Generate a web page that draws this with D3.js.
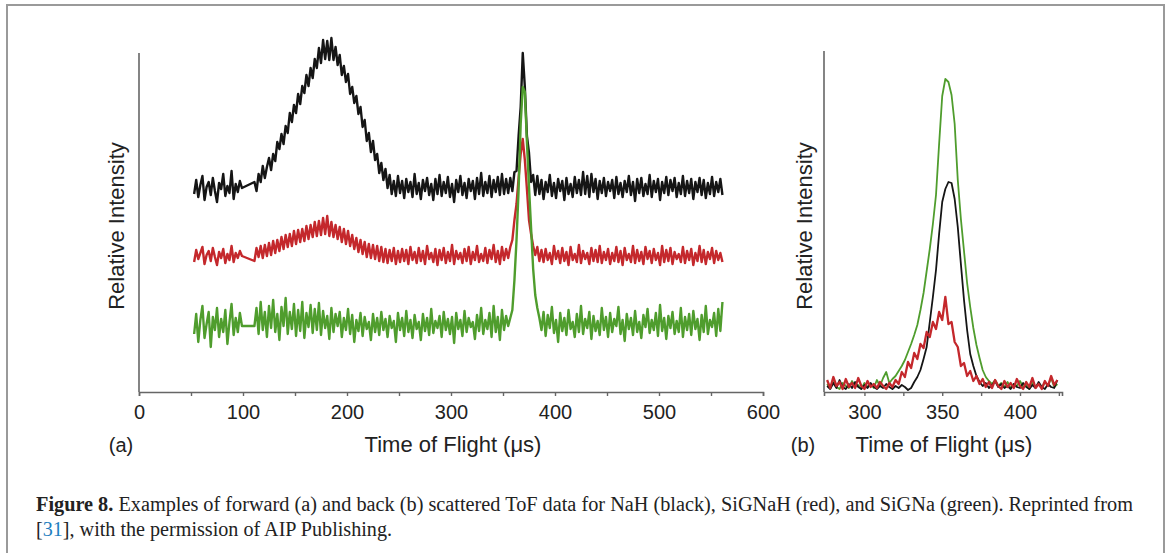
<!DOCTYPE html>
<html><head><meta charset="utf-8">
<script src="https://cdn.jsdelivr.net/npm/d3@7"></script>
<style>
html,body{margin:0;padding:0;background:#fff;}
svg{display:block;}
.ax text{font-family:"Liberation Sans",Arial,sans-serif;fill:#222;}
</style></head>
<body>
<svg id="fig" width="1170" height="553"></svg>
<script>
// ---------------- DATA ----------------
// Panel (a): forward scattered ToF, sampling grid (µs): 53..99 and 111..561 step 2
const gridA_seg1 = [53, 99];
const gridA_seg2 = [111, 561];
const gridA_step = 2;
const xTicksA = [0,50,100,150,200,250,300,350,400,450,500,550,600];
const xLabelsA = [0,100,200,300,400,500,600];

// relative intensity (arbitrary units, offsets included)
const nahA = [
198,212,195,207,216,192,205,210,197,214,
201,190,209,203,218,196,206,199,221,193,
208,200,211,204,
210,201,218,210,226,214,225,234,222,238,
231,250,243,258,248,266,259,279,270,287,
279,298,288,306,299,317,306,324,314,333,
324,344,329,352,333,351,332,354,332,345,
327,337,317,326,310,318,298,305,289,296,
278,285,265,272,251,259,240,251,232,238,
219,229,212,223,204,217,198,211,196,216,
199,211,194,213,200,210,195,218,198,209,
193,212,201,214,197,208,192,213,198,217,
196,210,199,215,195,208,190,212,200,216,
197,209,194,213,201,211,193,214,198,219,
196,210,199,216,195,212,200,215,197,218,
198,213,199,214,201,220,221,256,285,339,
305,256,239,210,217,197,216,198,212,193,
210,200,217,196,209,194,213,201,211,192,
214,198,208,195,215,199,212,197,220,198,
216,195,218,200,213,193,211,199,214,196,
210,201,212,194,215,198,209,195,211,200,
216,197,210,191,213,199,214,196,208,198,
217,195,211,200,213,192,210,199,215,197,
212,201,214,195,209,198,216,196,211,199,
213,193,210,200,214,197,212,194,209,198,
215,196,210,200,213,197];

const signahA = [
130,142,133,139,145,128,137,141,131,144,
135,127,140,134,143,129,138,132,146,130,
139,134,141,136,
131,144,135,146,134,147,136,149,137,151,
139,152,141,155,143,157,145,158,146,161,
148,162,150,163,151,166,153,167,155,170,
156,171,157,174,158,176,156,170,155,167,
153,165,150,163,148,161,146,157,143,154,
140,152,138,150,135,148,134,147,133,146,
131,145,130,143,129,142,131,144,128,141,
130,143,131,142,128,145,132,140,129,144,
131,141,128,146,133,139,130,143,127,142,
132,144,129,140,131,147,128,141,133,139,
129,143,131,145,128,140,132,146,130,138,
131,144,129,142,133,147,130,141,128,145,
132,143,134,145,152,172,188,214,238,253,
232,203,172,158,146,137,145,131,142,130,
143,132,139,128,146,133,141,129,144,131,
140,127,145,132,138,130,147,129,141,133,
139,128,144,131,142,130,146,129,140,132,
143,128,139,131,145,130,141,127,144,132,
138,130,146,129,142,131,140,128,145,133,
141,129,143,132,139,127,146,130,142,131,
144,128,140,133,138,130,145,129,141,132,
143,127,139,131,146,130,142,128,140,133,
144,129,141,132,139,130];

const signaA = [
58,78,50,72,86,54,68,80,45,75,
62,84,55,73,60,82,48,70,88,57,
74,60,79,66,
66,84,58,90,62,80,55,86,64,92,
60,78,52,85,66,94,58,80,63,88,
56,82,61,90,54,79,65,87,59,83,
62,89,57,81,64,76,53,84,60,78,
66,80,55,74,62,83,58,77,50,72,
61,79,56,75,63,70,52,78,60,74,
57,80,62,73,55,76,64,71,50,79,
62,74,56,81,60,72,54,77,63,70,
52,78,61,74,57,83,59,71,64,76,
55,80,62,73,58,75,49,79,63,72,
56,81,60,74,65,70,53,77,61,84,
58,72,63,79,55,86,60,75,52,82,
62,76,66,74,82,112,152,202,268,305,
300,250,205,164,123,97,84,74,62,80,
56,77,64,85,59,72,50,79,61,74,
57,82,63,70,55,78,60,86,58,73,
64,80,53,76,61,71,57,84,62,75,
55,79,60,73,66,85,58,72,51,78,
63,74,57,81,60,70,54,77,65,83,
59,72,62,79,56,87,61,74,53,76,
64,80,58,71,60,84,55,75,62,78,
57,81,63,73,52,77,60,86,58,72,
65,79,56,83,61,90];

// Panel (b): back scattered ToF, grid 276..424 step 2 (µs)
const gridB = [276, 424];
const gridB_step = 2;
const xTicksB = [300,325,350,375,400,425];
const xLabelsB = [300,350,400];

const nahB = [
6,3,9,4,12,5,3,8,4,10,
5,3,7,4,9,5,3,6,4,8,
5,3,6,4,7,5,2,4,10,15,
22,33,45,70,95,122,158,190,203,210,
209,193,165,128,92,62,38,26,16,10,
6,9,4,7,11,5,8,4,6,3,
8,5,4,9,5,3,7,4,10,5,
3,8,5,4,12];

const signahB = [
12,4,15,6,10,3,13,5,9,4,
14,6,3,11,5,8,4,10,6,3,
9,5,12,8,20,15,30,24,39,33,
48,44,60,55,70,63,80,72,95,68,
70,50,45,26,29,16,21,11,16,8,
13,5,10,4,12,6,3,11,5,9,
4,13,6,3,10,5,14,4,8,3,
11,6,16,7,12];

const signaB = [
8,4,10,5,3,9,6,4,11,5,
7,3,9,5,8,4,12,6,14,20,
9,13,16,21,26,32,40,48,57,67,
82,99,121,143,168,197,248,296,313,310,
297,268,212,173,141,109,85,64,47,34,
22,15,11,8,12,6,9,5,10,4,
8,6,11,5,7,3,9,5,8,4,
10,6,14,5,8];

const colNaH = "#151515", colSiGNaH = "#c4282c", colSiGNa = "#4f9d2d";

// ---------------- DRAW ----------------
const svg = d3.select("#fig");
svg.append("rect").attr("x",7).attr("y",5).attr("width",1157).attr("height",560)
  .attr("fill","#fff").attr("stroke","#9a9a9a").attr("stroke-width",2);

const gridA = d3.range(gridA_seg1[0], gridA_seg1[1]+1, gridA_step)
  .concat(d3.range(gridA_seg2[0], gridA_seg2[1]+1, gridA_step));
const gridBx = d3.range(gridB[0], gridB[1]+1, gridB_step);

const y = d3.scaleLinear().domain([0,340]).range([392,52]);
const xA = d3.scaleLinear().domain([0,600]).range([139,763]);
const xB = d3.scaleLinear().domain([274,427]).range([824,1062]);

function trace(g, xs, vals, xScale, color, w){
  const pts = vals.map((v,i)=>[xs[i], v]).filter(d=>d[0]!==undefined);
  g.append("path").datum(pts)
   .attr("fill","none").attr("stroke",color).attr("stroke-width",w)
   .attr("stroke-linejoin","round")
   .attr("d", d3.line().x(d=>xScale(d[0])).y(d=>y(d[1])));
}

function axes(xScale, ticks, labels, yTop, label, tag, tagX){
  const g = svg.append("g").attr("class","ax").attr("transform","translate(0,392)");
  g.call(d3.axisBottom(xScale).tickValues(ticks).tickSize(4).tickPadding(9)
     .tickFormat(d => labels.includes(d) ? d : ""));
  g.select(".domain").attr("stroke","#666").attr("stroke-width",1.6);
  g.selectAll(".tick line").attr("stroke","#666").attr("stroke-width",1.4);
  g.selectAll(".tick text").attr("font-size",20).attr("fill","#222");
  svg.append("line").attr("x1",xScale.range()[0]).attr("x2",xScale.range()[0])
    .attr("y1",yTop).attr("y2",392).attr("stroke","#666").attr("stroke-width",1.6);
  svg.append("text").attr("class","ax").attr("x",label.x).attr("y",452)
    .attr("text-anchor","middle").attr("font-size",22).attr("font-family","Liberation Sans, Arial, sans-serif")
    .attr("fill","#222").text("Time of Flight (μs)");
  svg.append("text").attr("x",tagX).attr("y",452)
    .attr("text-anchor","middle").attr("font-size",20).attr("font-family","Liberation Sans, Arial, sans-serif")
    .attr("fill","#222").text(tag);
}

// Panel (a)
axes(xA, xTicksA, xLabelsA, 53, {x:453}, "(a)", 121);
svg.append("text").attr("transform","translate(124,226) rotate(-90)")
  .attr("text-anchor","middle").attr("font-size",22)
  .attr("font-family","Liberation Sans, Arial, sans-serif").attr("fill","#222")
  .text("Relative Intensity");
const gA = svg.append("g");
trace(gA, gridA, nahA, xA, colNaH, 2.4);
trace(gA, gridA, signahA, xA, colSiGNaH, 2.4);
trace(gA, gridA, signaA, xA, colSiGNa, 2.4);

// Panel (b)
axes(xB, xTicksB, xLabelsB, 51, {x:944}, "(b)", 803);
svg.append("text").attr("transform","translate(812,226) rotate(-90)")
  .attr("text-anchor","middle").attr("font-size",22)
  .attr("font-family","Liberation Sans, Arial, sans-serif").attr("fill","#222")
  .text("Relative Intensity");
const gB = svg.append("g");
trace(gB, gridBx, signaB, xB, colSiGNa, 1.8);
trace(gB, gridBx, nahB, xB, colNaH, 1.8);
trace(gB, gridBx, signahB, xB, colSiGNaH, 2.3);

// Caption
const cap = svg.append("text").attr("x",36).attr("y",511)
  .attr("font-family","Liberation Serif, Times New Roman, serif").attr("font-size",20)
  .attr("fill","#222").attr("textLength",1097).attr("lengthAdjust","spacingAndGlyphs");
cap.append("tspan").attr("font-weight","bold").text("Figure 8.");
cap.append("tspan").text(" Examples of forward (a) and back (b) scattered ToF data for NaH (black), SiGNaH (red), and SiGNa (green). Reprinted from");
const cap2 = svg.append("text").attr("x",36).attr("y",536)
  .attr("font-family","Liberation Serif, Times New Roman, serif").attr("font-size",20)
  .attr("fill","#222").attr("textLength",356).attr("lengthAdjust","spacingAndGlyphs");
cap2.append("tspan").text("[");
cap2.append("tspan").attr("fill","#1f7fc0").text("31");
cap2.append("tspan").text("], with the permission of AIP Publishing.");
</script>
</body></html>
